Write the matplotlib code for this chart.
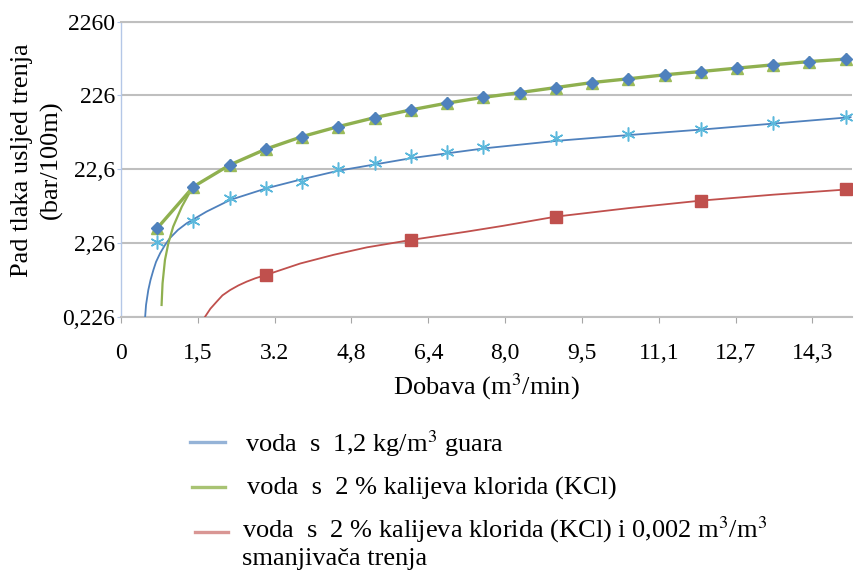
import matplotlib
matplotlib.use("Agg")
import matplotlib.pyplot as plt
from matplotlib.lines import Line2D

plt.rcParams['font.family'] = ['Liberation Serif', 'DejaVu Serif']
plt.rcParams['mathtext.fontset'] = 'stix'

# x ticks (m3/min) and their printed labels
x_ticks = [0, 1.59, 3.18, 4.77, 6.36, 7.95, 9.54, 11.13, 12.72, 14.31]
x_labels = ['0', '1,5', '3.2', '4,8', '6,4', '8,0', '9,5', '11,1', '12,7', '14,3']
y_ticks = [0.226, 2.26, 22.6, 226, 2260]
y_labels = ['0,226', '2,26', '22,6', '226', '2260']

# voda s 2 % KCl - measured points
green_x = [0.75, 1.5, 2.25, 3.0, 3.75, 4.5, 5.25, 6.0, 6.75, 7.5,
           8.25, 9.0, 9.75, 10.5, 11.25, 12.0, 12.75, 13.5, 14.25, 15.0]
green_y = [3.58, 13.1, 25.8, 42.4, 62.6, 85.5, 113, 144, 178, 213,
           247, 289, 338, 380, 430, 477, 530, 588, 652, 703]
# steep start of the green trend curve
green_fit_x = [0.84, 0.86, 0.91, 0.98, 1.08, 1.26, 1.43, 1.5]
green_fit_y = [0.326, 0.64, 1.33, 2.24, 3.76, 7.03, 11.2, 13.1]

# voda s 1,2 kg/m3 guara
blue_x = [0.75, 1.5, 2.25, 3.0, 3.75, 4.5, 5.25, 6.0, 6.75, 7.5,
          9.0, 10.5, 12.0, 13.5, 15.0]
blue_y = [2.35, 4.5, 9.1, 12.5, 15.2, 23.0, 27.3, 34.3, 39.2, 44.7,
          60.7, 67.5, 78.8, 95.1, 114.7]
blue_fit_x = [0.50, 0.518, 0.565, 0.611, 0.67, 0.725, 0.81, 0.911, 1.01, 1.18,
              1.36, 1.77, 2.26, 3.02, 3.71, 4.49, 6.02, 7.54, 9.05, 10.56,
              12.09, 13.6, 15.1]
blue_fit_y = [0.226, 0.326, 0.52, 0.711, 0.97, 1.25, 1.64, 2.12, 2.62, 3.40,
              4.18, 6.01, 8.66, 12.5, 16.3, 21.5, 32.0, 43.5, 55.0, 66.0,
              78.6, 95.0, 114.7]

# voda s KCl i smanjivac trenja
red_x = [3, 6, 9, 12, 15]
red_y = [0.832, 2.48, 5.14, 8.47, 12.1]
red_fit_x = [1.74, 1.85, 1.98, 2.1, 2.26, 2.43, 2.60, 2.78, 3.0, 3.71, 4.40,
             5.09, 6.0, 7.16, 7.9, 9.0, 10.5, 12.0, 13.5, 15.1]
red_fit_y = [0.226, 0.29, 0.361, 0.44, 0.52, 0.60, 0.675, 0.75, 0.832, 1.19, 1.56,
             1.97, 2.48, 3.22, 3.85, 5.14, 6.7, 8.47, 10.2, 12.1]

W, H = 858, 571
fig = plt.figure(figsize=(W / 100, H / 100), dpi=100)
ax = fig.add_axes([121 / W, 1 - 316.7 / H, 731 / W, 295 / H])

ax.set_yscale('log')
ax.set_ylim(0.226, 2260)
ax.set_xlim(0, 15.13)

ax.plot(blue_fit_x, blue_fit_y, color='#4f81bd', lw=1.3, zorder=3)
ax.plot(red_fit_x, red_fit_y, color='#c0504d', lw=1.3, zorder=3)
ax.plot(green_fit_x, green_fit_y, color='#8fb04f', lw=1.6, zorder=3)
ax.plot(green_x, green_y, color='#8fb04f', lw=2.4, zorder=3)

ax.plot(blue_x, blue_y, ls='none', marker=(6, 2, 0), ms=10, mew=1.1,
        color='#5bb8dc', zorder=4)
ax.plot(red_x, red_y, ls='none', marker='s', ms=8, color='#c0504d', zorder=4)
ax.plot(green_x, green_y, ls='none', marker='^', ms=8, color='#9bbb59', zorder=4)
ax.plot(green_x, green_y, ls='none', marker='D', ms=6.5, color='#4f81bd', zorder=5)

ax.set_yticks(y_ticks)
ax.set_yticklabels(y_labels)
ax.yaxis.set_minor_locator(matplotlib.ticker.NullLocator())
ax.set_xticks(x_ticks)
ax.set_xticklabels(x_labels)

ax.yaxis.grid(True, color='#bfbfbf', lw=1.5)
ax.set_axisbelow(True)
ax.spines['right'].set_visible(False)
for s in ('top', 'bottom'):
    ax.spines[s].set_color('#bfbfbf')
    ax.spines[s].set_linewidth(1.5)
ax.spines['left'].set_color('#b4c7e7')
ax.spines['left'].set_linewidth(1)

ax.tick_params(axis='x', length=4, color='#a6a6a6', pad=15, labelsize=17)
ax.tick_params(axis='y', length=3, color='#b4c7e7', pad=1, labelsize=17)

ax.set_xlabel('Dobava (m$^3$/min)', fontsize=19, labelpad=5)
fig.text(37 / W, 1 - 160 / H, 'Pad tlaka usljed trenja\n(bar/100m)', rotation=90,
         ha='center', va='center', fontsize=19, linespacing=1.35)

# legend drawn below the chart
leg_colors = ['#95b3d7', '#a8c373', '#d99694']
leg_line_y = [441.7, 486.7, 531.7]
leg_line_x = [(190, 225), (192, 225), (195, 228)]
leg_text = ['voda  s  1,2 kg/m$^3$ guara',
            'voda  s  2 % kalijeva klorida (KCl)',
            'voda  s  2 % kalijeva klorida (KCl) i 0,002 m$^3$/m$^3$']
leg_text_x = [245, 247, 242]
leg_text_base = [452, 495, 537]
for c, ly, (x0, x1), t, tx, tb in zip(leg_colors, leg_line_y, leg_line_x,
                                      leg_text, leg_text_x, leg_text_base):
    fig.add_artist(Line2D([x0 / W, x1 / W], [1 - ly / H, 1 - ly / H],
                          color=c, lw=2.4, transform=fig.transFigure))
    fig.text(tx / W, 1 - tb / H, t, ha='left', va='baseline', fontsize=19)
fig.text(242 / W, 1 - 565 / H, 'smanjivača trenja', ha='left', va='baseline',
         fontsize=19)

fig.savefig('out.png', dpi=100)
